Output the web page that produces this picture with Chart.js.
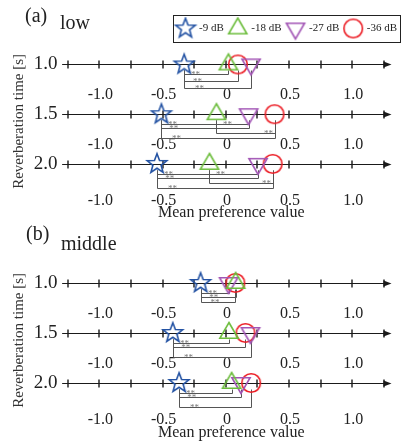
<!DOCTYPE html>
<html>
<head>
<meta charset="utf-8">
<script src="https://cdn.jsdelivr.net/npm/chart.js@4.4.0/dist/chart.umd.min.js"></script>
<style>
  body { margin: 0; background: #fff; }
  #wrap { position: relative; width: 406px; height: 445px; font-family: "Liberation Serif", "Times New Roman", serif; color: #222; }
  .box { position: absolute; left: 0; width: 406px; }
  .tag { position: absolute; font-size: 20px; line-height: 20px; white-space: nowrap; }
</style>
</head>
<body>
<div id="wrap">
  <div class="box" style="top:0;height:225px"><canvas id="chartLow"></canvas></div>
  <div class="box" style="top:225px;height:220px"><canvas id="chartMiddle"></canvas></div>
  <div class="tag" style="left:25px;top:5px">(a)</div>
  <div class="tag" style="left:60px;top:12px">low</div>
  <div class="tag" style="left:26px;top:223px">(b)</div>
  <div class="tag" style="left:61px;top:233px">middle</div>
</div>
<script>
const serif = '"Liberation Serif", "Times New Roman", serif';

// rows and axis
const reverbTimes = [1.0, 1.5, 2.0];
const levelNames = ['-9 dB', '-18 dB', '-27 dB', '-36 dB'];
const xTickValues = [-1.0, -0.5, 0, 0.5, 1.0];
const xTickLabels = ['-1.0', '-0.5', '0', '0.5', '1.0'];
const xMinorTicks = [-1.25, -1.0, -0.75, -0.5, -0.25, 0, 0.25, 0.5, 0.75, 1.0, 1.25];

// (a) low  -- one value per reverberation time
const low9 = [-0.33, -0.51, -0.545];
const low18 = [0.02, -0.075, -0.13];
const low27 = [0.20, 0.18, 0.255];
const low36 = [0.095, 0.385, 0.37];

// (b) middle
const mid9 = [-0.20, -0.42, -0.37];
const mid18 = [0.077, 0.024, 0.045];
const mid27 = [0.022, 0.195, 0.12];
const mid36 = [0.075, 0.155, 0.20];

// significant pairs (**) per row : [from, to, level]
const lowPairs = [
  [[0, 1, 0], [0, 3, 1.5], [0, 2, 3]],
  [[0, 1, 0], [1, 2, 0], [0, 2, 1], [1, 3, 2], [0, 3, 3]],
  [[0, 1, 0], [1, 2, 0], [0, 2, 1], [1, 3, 2], [0, 3, 3]]
];
const midPairs = [
  [[0, 2, 0], [0, 1, 1], [0, 3, 2]],
  [[0, 1, 0], [0, 3, 1], [0, 2, 3]],
  [[0, 1, 0], [0, 2, 1], [0, 3, 3]]
];

const markerColors = ['#2352a3', '#6cbd3c', '#a255b5', '#ec1c24'];
const markerKinds = ['star', 'triangle', 'triangle', 'circle'];

function markerImage(kind, color) {
  const c = document.createElement('canvas');
  c.width = 28; c.height = 28;
  const g = c.getContext('2d');
  g.strokeStyle = color;
  g.lineWidth = 1.6;
  g.beginPath();
  if (kind === 'star') {
    for (let i = 0; i < 10; i++) {
      const rad = i % 2 ? 4.3 : 10.3;
      const a = -Math.PI / 2 + i * Math.PI / 5;
      g.lineTo(14 + rad * Math.cos(a), 14 + rad * Math.sin(a));
    }
    g.closePath();
  } else if (kind === 'triangle') {
    for (let i = 0; i < 3; i++) {
      const a = -Math.PI / 2 + i * 2 * Math.PI / 3;
      g.lineTo(14 + 10.5 * Math.cos(a), 14 + 10.5 * Math.sin(a));
    }
    g.closePath();
  } else {
    g.arc(14, 14, 9.3, 0, 2 * Math.PI);
  }
  g.stroke();
  return c;
}
const markerImgs = markerKinds.map((k, i) => markerImage(k, markerColors[i]));

function buildDatasets(series) {
  return series.map((vals, k) => ({
    label: levelNames[k],
    data: vals.map((v, r) => ({ x: v, y: reverbTimes[r] })),
    pointStyle: markerImgs[k],
    pointRotation: k === 2 ? 180 : 0,
    borderColor: markerColors[k],
    backgroundColor: 'rgba(0,0,0,0)',
    showLine: false,
    clip: false
  }));
}

// axis lines, ticks, tick labels and significance brackets for every row
const rowAxes = {
  id: 'rowAxes',
  beforeDatasetsDraw(chart, args, opts) {
    const { ctx } = chart;
    const x = chart.scales.x, y = chart.scales.y;
    ctx.save();
    reverbTimes.forEach((t, r) => {
      const py = Math.round(y.getPixelForValue(t)) + 0.5;
      const xs = x.getPixelForValue(-1.295), xe = x.getPixelForValue(1.31);
      ctx.strokeStyle = '#1a1a1a';
      ctx.fillStyle = '#1a1a1a';
      ctx.lineWidth = 1.2;
      ctx.beginPath();
      ctx.moveTo(xs, py);
      ctx.lineTo(xe - 4, py);
      ctx.stroke();
      ctx.beginPath();
      ctx.moveTo(xe, py);
      ctx.lineTo(xe - 8, py - 3);
      ctx.lineTo(xe - 8, py + 3);
      ctx.closePath();
      ctx.fill();
      ctx.lineWidth = 1.4;
      ctx.beginPath();
      xMinorTicks.forEach(v => {
        const px = Math.round(x.getPixelForValue(v));
        ctx.moveTo(px, py - 4);
        ctx.lineTo(px, py + 4);
      });
      ctx.stroke();

      ctx.font = '16px ' + serif;
      ctx.textAlign = 'center';
      ctx.textBaseline = 'middle';
      ctx.fillStyle = '#222';
      const gap = r === reverbTimes.length - 1 ? 36 : 30;
      xTickValues.forEach((v, i) => {
        ctx.fillText(xTickLabels[i], x.getPixelForValue(v) + 1, py + gap);
      });

      // brackets
      ctx.strokeStyle = '#555';
      ctx.lineWidth = 1;
      ctx.font = '9px ' + serif;
      ctx.textBaseline = 'alphabetic';
      ctx.fillStyle = '#777';
      opts.pairs[r].forEach(([a, b, lev]) => {
        const xa = Math.round(x.getPixelForValue(chart.data.datasets[a].data[r].x)) + 0.5;
        const xb = Math.round(x.getPixelForValue(chart.data.datasets[b].data[r].x)) + 0.5;
        const ly = Math.round(py + 9 + lev * 4.7) + 0.5;
        ctx.beginPath();
        ctx.moveTo(xa, py + 6);
        ctx.lineTo(xa, ly);
        ctx.lineTo(xb, ly);
        ctx.lineTo(xb, py + 6);
        ctx.stroke();
        const tx = (a !== 0 && lev > 0) ? xb - 7 : xa + 11 + lev * 1.3;
        ctx.fillText('**', tx, ly + 2.5);
      });
    });
    ctx.restore();
  }
};

// border around the legend
const legendFrame = {
  id: 'legendFrame',
  afterDraw(chart) {
    const lg = chart.legend;
    if (!chart.options.plugins.legend.display || !lg.legendHitBoxes.length) return;
    const hb = lg.legendHitBoxes;
    const last = hb[hb.length - 1];
    const x0 = Math.round(hb[0].left - 5) + 0.5;
    const x1 = Math.round(last.left + last.width + 3) + 0.5;
    const y0 = Math.round(hb[0].top - 8) + 0.5;
    const y1 = Math.round(hb[0].top + hb[0].height + 8) + 0.5;
    const ctx = chart.ctx;
    ctx.save();
    ctx.strokeStyle = '#222';
    ctx.lineWidth = 1;
    ctx.strokeRect(x0, y0, x1 - x0, y1 - y0);
    ctx.restore();
  }
};

function makeChart(id, series, pairs, yMin, yMax, padTop, showLegend) {
  return new Chart(document.getElementById(id), {
    type: 'scatter',
    data: { datasets: buildDatasets(series) },
    plugins: [rowAxes, legendFrame],
    options: {
      responsive: true,
      maintainAspectRatio: false,
      animation: false,
      events: [],
      layout: { padding: { top: padTop, right: 3, left: 0, bottom: 0 } },
      scales: {
        x: {
          type: 'linear', min: -1.3, max: 1.385,
          grid: { display: false, drawTicks: false },
          border: { display: false },
          ticks: { display: false },
          title: { display: true, text: 'Mean preference value', color: '#222',
                   font: { family: serif, size: 16 }, padding: { top: 4, bottom: 3 } }
        },
        y: {
          type: 'linear', reverse: true, min: yMin, max: yMax,
          grid: { display: false, drawTicks: false },
          border: { display: false },
          afterBuildTicks: s => { s.ticks = reverbTimes.map(v => ({ value: v })); },
          afterFit: s => { s.width = 61.5; },
          ticks: { color: '#222', padding: 4, font: { family: serif, size: 19 },
                   callback: v => Number(v).toFixed(1) },
          title: { display: true, text: 'Reverberation time [s]', color: '#333',
                   font: { family: serif, size: 15 }, padding: { top: 10, bottom: 0 } }
        }
      },
      plugins: {
        rowAxes: { pairs: pairs },
        tooltip: { enabled: false },
        legend: {
          display: showLegend, position: 'top', align: 'end',
          labels: { usePointStyle: true, pointStyleWidth: 16, padding: 6, color: '#222',
                    font: { family: serif, size: 11 } }
        }
      }
    }
  });
}

makeChart('chartLow', [low9, low18, low27, low36], lowPairs, 0.794, 2.351, 17, true);
makeChart('chartMiddle', [mid9, mid18, mid27, mid36], midPairs, 0.79, 2.358, 37, false);
</script>
</body>
</html>
